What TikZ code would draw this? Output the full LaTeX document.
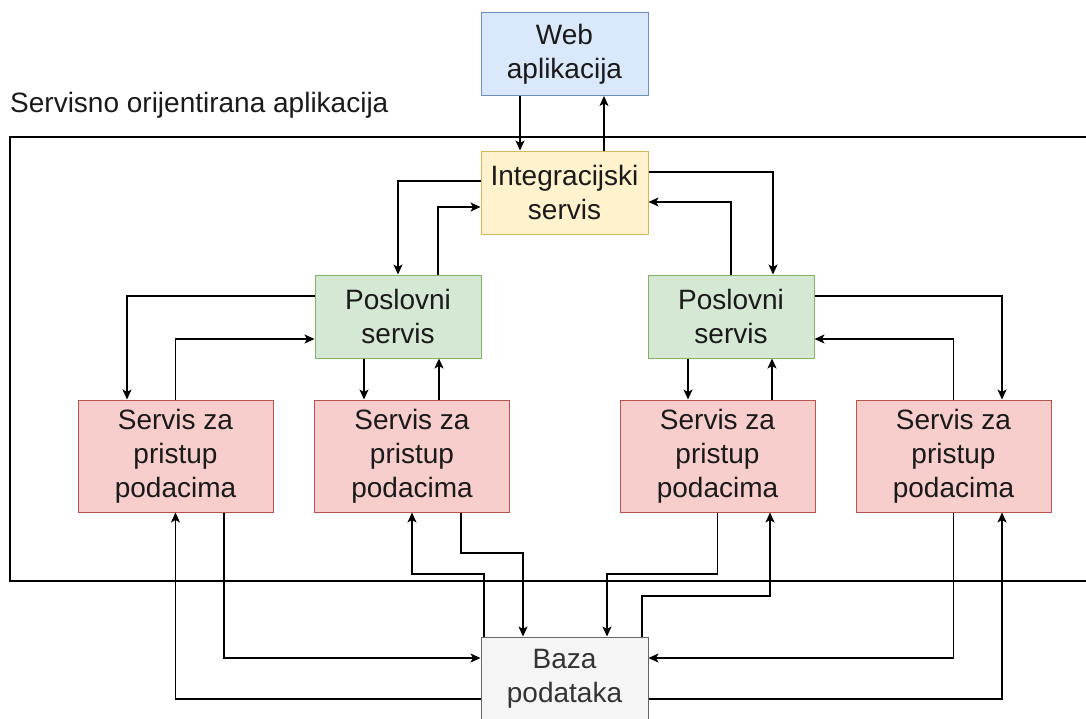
\documentclass[tikz,border=0pt]{standalone}
\usepackage{fontspec}
\setmainfont{Liberation Sans}
\usetikzlibrary{arrows.meta}
\definecolor{webfill}{HTML}{DAE8FC}
\definecolor{webdraw}{HTML}{6C8EBF}
\definecolor{intfill}{HTML}{FFF2CC}
\definecolor{intdraw}{HTML}{D6B656}
\definecolor{posfill}{HTML}{D5E8D4}
\definecolor{posdraw}{HTML}{82B366}
\definecolor{dalfill}{HTML}{F8CECC}
\definecolor{daldraw}{HTML}{B85450}
\definecolor{bazafill}{HTML}{F5F5F5}
\definecolor{bazadraw}{HTML}{666666}
\definecolor{bazatext}{HTML}{333333}
\definecolor{boxtext}{HTML}{1A1A1A}
\begin{document}
\begin{tikzpicture}[x=1pt,y=-1pt,
    box/.style={draw,line width=1pt,align=center,inner sep=0pt,text=boxtext,
      minimum width=167pt,minimum height=83pt,font=\fontsize{28}{34}\selectfont},
    dalbox/.style={box,minimum width=195pt,minimum height=112pt,fill=dalfill,draw=daldraw},
    arr/.style={-{Stealth[length=10pt,width=9pt,inset=2.5pt]},line width=1.3pt}]
            \clip (0,0) rectangle (1086,718);

            % Frame of the application
            \draw[line width=1.3pt] (10,137) rectangle (1100,581);
            \node[anchor=base west,inner sep=0pt,text=boxtext,font=\fontsize{28}{34}\selectfont] (title) at (10,112) {Servisno orijentirana aplikacija};

            % Nodes with manual coordinates
            \node[box,fill=webfill,draw=webdraw] (web) at (564.5,54) {Web\\aplikacija};
            \node[box,fill=intfill,draw=intdraw] (integ) at (564.5,192.5) {Integracijski\\servis};
            \node[box,fill=posfill,draw=posdraw,minimum width=166pt] (posL) at (398,316.5) {Poslovni\\servis};
            \node[box,fill=posfill,draw=posdraw,minimum width=166pt] (posR) at (731,316.5) {Poslovni\\servis};
            \node[dalbox] (dal1) at (175.5,456) {Servis za\\pristup\\podacima};
            \node[dalbox] (dal2) at (412,456) {Servis za\\pristup\\podacima};
            \node[dalbox] (dal3) at (717.5,456) {Servis za\\pristup\\podacima};
            \node[dalbox] (dal4) at (953.5,456) {Servis za\\pristup\\podacima};
            \node[box,fill=bazafill,draw=bazadraw,text=bazatext] (baza) at (564.5,678.5) {Baza\\podataka};

            % Edges
            \draw[arr] (web.south -| 520,0) -- (integ.north -| 520,0);
            \draw[arr] (integ.north -| 604,0) -- (web.south -| 604,0);
            \draw[arr] (integ.west |- 0,181) -| (posL.north);
            \draw[arr] (posL.north -| 438,0) |- (integ.west |- 0,207);
            \draw[arr] (integ.east |- 0,172) -| (posR.north -| 773,0);
            \draw[arr] (posR.north) |- (integ.east |- 0,202);
            \draw[arr] (posL.west |- 0,296) -| (dal1.north -| 127,0);
            \draw[arr] (dal1.north) |- (posL.west |- 0,339);
            \draw[arr] (posL.south -| 364,0) -- (dal2.north -| 364,0);
            \draw[arr] (dal2.north -| 439,0) -- (posL.south -| 439,0);
            \draw[arr] (posR.south -| 688,0) -- (dal3.north -| 688,0);
            \draw[arr] (dal3.north -| 772,0) -- (posR.south -| 772,0);
            \draw[arr] (posR.east |- 0,296) -| (dal4.north -| 1002,0);
            \draw[arr] (dal4.north) |- (posR.east |- 0,339);
            \draw[arr] (dal1.south -| 224,0) |- (baza.west |- 0,658);
            \draw[arr] (baza.west |- 0,699) -| (dal1.south);
            \draw[arr] (dal2.south -| 461,0) |- (523,553) -- (baza.north -| 523,0);
            \draw[arr] (baza.north -| 484,0) |- (412,574) -- (dal2.south -| 412,0);
            \draw[arr] (dal3.south) |- (607,574) -- (baza.north -| 607,0);
            \draw[arr] (baza.north -| 642,0) |- (770,596) -- (dal3.south -| 770,0);
            \draw[arr] (dal4.south) |- (baza.east |- 0,658);
            \draw[arr] (baza.east |- 0,699) -| (dal4.south -| 1002,0);
        \end{tikzpicture}
\end{document}
